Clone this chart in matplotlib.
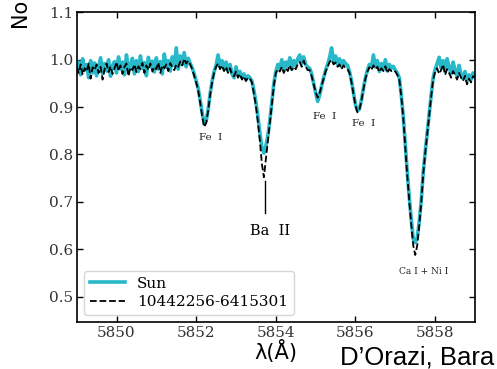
import numpy as np
import matplotlib
matplotlib.use('Agg')
import matplotlib.pyplot as plt

# wavelength grid (Angstrom), 0.05 A sampling
wave = np.arange(5849.0, 5859.0001, 0.05)

# normalised flux, one row per 0.5 A
sun_flux = [
    0.975, 0.995, 0.968, 1.002, 0.978, 0.990, 0.962, 0.998, 0.972, 0.993,
    0.966, 0.985, 1.004, 0.970, 0.992, 0.976, 1.000, 0.965, 0.988, 0.996,
    0.972, 1.006, 0.980, 0.995, 0.968, 1.010, 0.978, 0.990, 1.003, 0.970,
    0.998, 0.975, 1.008, 0.982, 0.994, 0.966, 1.005, 0.985, 0.997, 0.974,
    1.004, 0.980, 0.996, 0.970, 1.012, 0.984, 0.998, 0.976, 1.006, 0.988,
    1.025, 0.980, 1.008, 0.990, 1.015, 0.985, 1.003, 0.992, 0.983, 0.970,
    0.955, 0.940, 0.915, 0.888, 0.865, 0.870, 0.895, 0.928, 0.955, 0.975,
    0.988, 1.010, 0.985, 0.998, 0.980, 0.995, 0.976, 0.990, 0.970, 0.962,
    0.985, 0.968, 0.975, 0.962, 0.970, 0.958, 0.966, 0.962, 0.955, 0.935,
    0.910, 0.880, 0.845, 0.815, 0.803, 0.818, 0.840, 0.872, 0.910, 0.950,
    0.975, 0.990, 0.982, 1.000, 0.978, 0.995, 0.985, 1.004, 0.980, 0.998,
    0.988, 1.002, 1.010, 0.992, 1.006, 0.990, 0.984, 0.982, 0.970, 0.950,
    0.930, 0.912, 0.925, 0.945, 0.962, 0.978, 0.990, 1.005, 1.025, 0.995,
    1.008, 0.990, 1.002, 0.985, 0.998, 0.992, 0.988, 0.975, 0.955, 0.930,
    0.905, 0.892, 0.896, 0.915, 0.940, 0.962, 0.978, 0.990, 0.985, 1.010,
    0.985, 0.998, 0.975, 0.992, 0.980, 1.000, 0.976, 0.990, 0.982, 0.986,
    0.978, 0.972, 0.962, 0.925, 0.880, 0.820, 0.762, 0.710, 0.663, 0.622,
    0.614, 0.625, 0.658, 0.702, 0.762, 0.805, 0.845, 0.887, 0.925, 0.962,
    0.980, 0.992, 1.005, 0.982, 0.998, 0.975, 1.002, 0.985, 0.970, 0.995,
    0.978, 0.965, 0.988, 0.970, 0.960, 0.975, 0.955, 0.968, 0.958, 0.972,
    0.965,
]

star_flux = [
    0.985, 0.972, 0.990, 0.968, 0.982, 0.975, 0.992, 0.960, 0.984, 0.978,
    0.990, 0.972, 0.985, 0.958, 0.980, 0.992, 0.974, 0.986, 0.970, 0.982,
    0.995, 0.976, 0.988, 0.970, 0.985, 0.992, 0.965, 0.984, 0.978, 0.990,
    0.974, 0.986, 0.980, 0.993, 0.972, 0.988, 0.978, 0.992, 0.975, 0.985,
    0.980, 0.994, 0.972, 0.988, 0.982, 0.990, 0.976, 0.993, 0.984, 0.978,
    0.990, 0.985, 0.996, 0.988, 1.002, 0.992, 0.998, 0.990, 0.980, 0.966,
    0.952, 0.935, 0.910, 0.882, 0.858, 0.866, 0.892, 0.925, 0.952, 0.972,
    0.985, 0.992, 0.980, 0.988, 0.976, 0.985, 0.972, 0.982, 0.968, 0.965,
    0.975, 0.962, 0.970, 0.958, 0.965, 0.955, 0.962, 0.960, 0.952, 0.928,
    0.903, 0.868, 0.828, 0.780, 0.752, 0.790, 0.830, 0.865, 0.905, 0.945,
    0.972, 0.980, 0.975, 0.985, 0.972, 0.982, 0.976, 0.988, 0.978, 0.985,
    0.980, 0.990, 0.995, 0.985, 0.998, 0.985, 0.978, 0.978, 0.965, 0.948,
    0.932, 0.920, 0.930, 0.945, 0.960, 0.975, 0.985, 0.995, 1.000, 0.990,
    0.994, 0.985, 0.990, 0.980, 0.988, 0.982, 0.980, 0.972, 0.952, 0.928,
    0.903, 0.889, 0.895, 0.914, 0.938, 0.960, 0.975, 0.984, 0.978, 0.988,
    0.980, 0.985, 0.974, 0.982, 0.976, 0.986, 0.972, 0.980, 0.976, 0.978,
    0.975, 0.968, 0.958, 0.922, 0.877, 0.815, 0.755, 0.702, 0.652, 0.608,
    0.588, 0.608, 0.650, 0.697, 0.758, 0.802, 0.842, 0.884, 0.922, 0.958,
    0.975, 0.982, 0.970, 0.978, 0.990, 0.968, 0.980, 0.972, 0.962, 0.976,
    0.968, 0.958, 0.972, 0.962, 0.955, 0.966, 0.948, 0.960, 0.952, 0.965,
    0.962,
]

# line identifications: label, x, y
small_labels = [('Fe I', 5852.37, 0.836), ('Fe I', 5855.23, 0.881),
                ('Fe I', 5856.21, 0.866)]
ca_label = ('Ca I + Ni I', 5857.70, 0.554)
ba_label = ('Ba II', 5853.85, 0.638)
ba_mark_x = 5853.72
ba_mark_y = (0.677, 0.745)

plt.rcParams['font.family'] = 'DejaVu Serif'

fig = plt.figure(figsize=(4.97, 3.69), dpi=100)
ax = fig.add_axes([0.1543, 0.1266, 0.8014, 0.8401])

ax.plot(wave, sun_flux, color='#27b8c9', lw=2.6, label='Sun', zorder=2)
ax.plot(wave, star_flux, color='black', ls='--', lw=1.3,
        label='10442256-6415301', zorder=3)

for txt, x, y in small_labels:
    ax.text(x, y, txt.replace(' ', '  '), fontsize=7.5, ha='center', va='center', color='#222222')
ax.text(ca_label[1], ca_label[2], ca_label[0], fontsize=6.5, ha='center', va='center', color='#222222')
ax.text(ba_label[1], ba_label[2], ba_label[0].replace(' ', '  '), fontsize=10.5, ha='center', va='center')
ax.plot([ba_mark_x, ba_mark_x], ba_mark_y, color='black', lw=1.0)

ax.set_xlim(5849.0, 5859.0)
ax.set_ylim(0.446, 1.1)
ax.set_xticks([5850, 5852, 5854, 5856, 5858])
ax.set_yticks([0.5, 0.6, 0.7, 0.8, 0.9, 1.0, 1.1])
ax.ticklabel_format(useOffset=False)
ax.tick_params(direction='in', top=True, right=True, length=4.5, width=1.0,
               labelsize=11, pad=2.5, labelcolor='#333333')
for sp in ax.spines.values():
    sp.set_linewidth(1.2)

ax.set_xlabel('λ(Å)', family='DejaVu Sans', fontsize=15, labelpad=0)
fig.text(0.045, 0.921, 'Normalized Flux', family='DejaVu Sans', fontsize=15,
         rotation=90, ha='center', va='bottom')
fig.text(340 / 497, 4 / 369, 'D’Orazi, Bara', family='Liberation Sans',
         fontsize=18.5, ha='left', va='baseline')

ax.legend(loc='lower left', fontsize=11, handlelength=2.3, labelspacing=0.3,
          borderaxespad=0.45, handletextpad=0.8)

fig.savefig('out.png', dpi=100)
